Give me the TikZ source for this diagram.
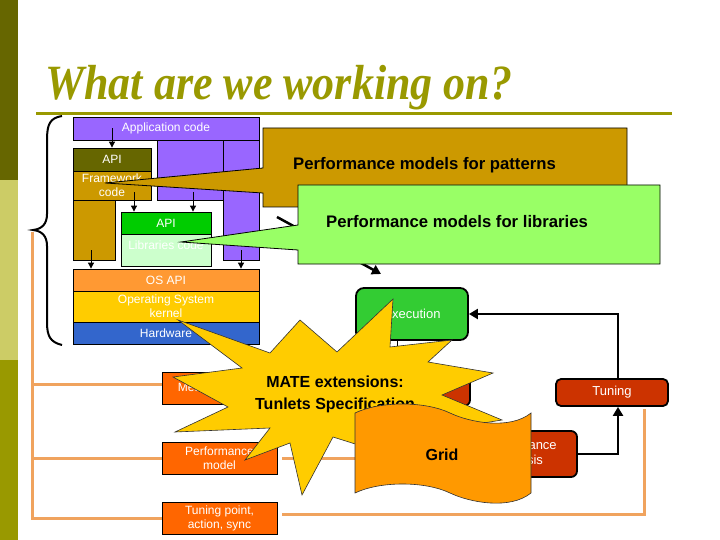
\documentclass[tikz,border=0pt]{standalone}
\usepackage{fontspec}
\setmainfont{Liberation Sans}
\newfontfamily\titlefont{Liberation Serif}
\usetikzlibrary{arrows.meta}
\definecolor{cPurp}{HTML}{9966FF}
\definecolor{cDOlive}{HTML}{666600}
\definecolor{cBrn}{HTML}{CC9900}
\definecolor{cGrn}{HTML}{00CC00}
\definecolor{cLGrn}{HTML}{CCFFCC}
\definecolor{cOsOr}{HTML}{FF9933}
\definecolor{cYel}{HTML}{FFCC00}
\definecolor{cHw}{HTML}{3366CC}
\definecolor{cCalGrn}{HTML}{99FF66}
\definecolor{cExGrn}{HTML}{33CC33}
\definecolor{cDRed}{HTML}{CC3300}
\definecolor{cOrng}{HTML}{FF6600}
\definecolor{cGridOr}{HTML}{FF9900}
\definecolor{cTan}{HTML}{F0A35E}
\definecolor{cKhaki}{HTML}{CCCC66}
\definecolor{cOlive}{HTML}{999900}
\tikzset{
  blk/.style={draw=black, line width=0.8pt, inner sep=0pt, text=white,
    font=\fontsize{12}{14}\selectfont, align=center},
  rbox/.style={blk, rounded corners=6pt, line width=1.8pt, font=\fontsize{13}{15}\selectfont},
  tanline/.style={draw=cTan, line width=3pt},
  flow/.style={draw=black, line width=2.5pt, -{Triangle[length=9pt,width=10pt]}},
  arr/.style={draw=black, line width=0.9pt, -{Triangle[length=6pt,width=6pt]}},
  calltext/.style={font=\bfseries\fontsize{16.7}{19}\selectfont, text=black, inner sep=0pt},
  startext/.style={font=\bfseries\fontsize{16}{22}\selectfont, text=black, inner sep=0pt, align=center},
}
\begin{document}
\begin{tikzpicture}[x=1pt,y=-1pt]
\useasboundingbox (0,0) rectangle (720,540);
\fill[white] (0,0) rectangle (720,540);
% sidebar
\fill[cDOlive] (0,0) rectangle (18,180);
\fill[cKhaki] (0,180) rectangle (18,360);
\fill[cOlive] (0,360) rectangle (18,540);
% title
\node[anchor=base west, inner sep=0pt, text=cOlive, yscale=1.12,
  font=\titlefont\bfseries\itshape\fontsize{44}{48}\selectfont] (title) at (45,100) {What are we working on?};
\draw[cOlive, line width=3pt] (36,114) -- (672,114);
% brace
\draw[line width=2pt] (62,116) .. controls (50,118) and (47,124) .. (47,140) -- (47,214)
  .. controls (47,224) and (42,229) .. (33,230) .. controls (42,231) and (47,236) .. (47,246)
  -- (47,322) .. controls (47,336) and (50,342) .. (62,345);
\coordinate (bt) at (32,232);

% left tunlet boxes
\node[blk, fill=cOrng, minimum width=114pt, minimum height=32pt] (mon) at (219,388) {Measure points};
\node[blk, fill=cOrng, minimum width=115pt, minimum height=32pt] (pm) at (219.5,458) {Performance\\model};
\node[blk, fill=cOrng, minimum width=115pt, minimum height=32pt] (tp) at (219.5,518) {Tuning point,\\action, sync};

% software stack
\node[blk, fill=cPurp, minimum width=66pt, minimum height=60pt] (col1) at (190,170) {};
\node[blk, fill=cPurp, minimum width=36pt, minimum height=120pt] (col2) at (241,200) {};
\node[blk, fill=cPurp, minimum width=186pt, minimum height=23pt] (app) at (166,128.5) {Application code};
\node[blk, fill=cBrn, minimum width=42pt, minimum height=60pt] (bcol) at (94,230) {};
\node[blk, fill=cDOlive, minimum width=78pt, minimum height=23pt] (api1) at (112,159.5) {API};
\node[blk, fill=cBrn, minimum width=78pt, minimum height=29pt] (fw) at (112,185.5) {Framework\\code};
\node[blk, fill=cGrn, minimum width=90pt, minimum height=22pt] (api2) at (166,223) {API};
\node[blk, fill=cLGrn, minimum width=90pt, minimum height=32pt, text depth=10pt] (lib) at (166,250) {Libraries code};
\node[blk, fill=cOsOr, minimum width=186pt, minimum height=22pt] (osapi) at (166,280) {OS API};
\node[blk, fill=cYel, minimum width=186pt, minimum height=31pt] (kern) at (166,306.5) {Operating System\\kernel};
\node[blk, fill=cHw, minimum width=186pt, minimum height=22pt] (hw) at (166,333) {Hardware};

\draw[arr] (app.center -| api1.north) -- (api1.north);
\draw[arr] ([xshift=22pt,yshift=-7pt]fw.center) -- ([xshift=-32pt]api2.north);
\draw[arr] ([xshift=3pt,yshift=-22pt]col1.center) -- ([xshift=27pt]api2.north);
\draw[arr] ([xshift=-3pt,yshift=-20pt]bcol.center) -- ([xshift=-75pt]osapi.north);
\draw[arr] ([yshift=-50pt]col2.center) -- ([xshift=75pt]osapi.north);

% tan connectors
\draw[tanline] (bt) |- (tp.west);
\draw[tanline] (pm.west) -- (pm.west -| bt);
\draw[tanline] ([yshift=4pt]mon.west) -- ([yshift=4pt]mon.west -| bt);

% right flow
\node[rbox, fill=cExGrn, rounded corners=8pt, minimum width=112pt, minimum height=52pt] (exec) at (412,314) {Execution};
\node[rbox, fill=cDRed, minimum width=110pt, minimum height=32pt] (monR) at (415,390) {};
\node[rbox, fill=cDRed, minimum width=115pt, minimum height=46pt] (pa) at (519.5,454) {Performance\\analysis};
\node[rbox, fill=cDRed, rounded corners=5pt, minimum width=112pt, minimum height=27pt] (tuning) at (612,392.5) {Tuning};

\draw[tanline, shorten <=5pt] (pm.east) -- (pm.east -| pa.west);
\draw[tanline, shorten <=5pt, shorten >=2pt] ([yshift=4pt]tp.east) -| ([xshift=32pt]tuning.south);

\draw[flow] ([xshift=6pt]tuning.north) |- (exec.east);
\draw[flow] (pa.east) -| ([xshift=6pt]tuning.south);
\draw[arr] ([xshift=-15pt]exec.south) -- ([xshift=-15pt]exec.south |- monR.north);

% callout for patterns
\filldraw[fill=cBrn, draw=black, line width=0.8pt] (263,128) -- (627,128) -- (627,207) -- (263,207)
  -- (263,193) -- (105,183) -- (263,168) -- cycle;
\node[calltext] (cpat) at (424.5,165) {Performance models for patterns};

% hidden arrow
\coordinate (hs) at (277,217);
\coordinate (he) at (381,274);
\draw[flow] (hs) -- (he);

% callout for libraries
\filldraw[fill=cCalGrn, draw=black, line width=0.8pt] (298,185) -- (660,185) -- (660,264) -- (298,264)
  -- (298,250) -- (181,242) -- (298,225) -- cycle;
\node[calltext] (clib) at (457,222) {Performance models for libraries};

% star
\filldraw[fill=cYel, draw=black!80, line width=0.6pt]
  (178,320) -- (270,353) -- (300,320) -- (337,352) -- (393,299) -- (390,347) -- (452,340)
  -- (428,362) -- (493,373) -- (442,395) -- (502,420) -- (440,430) -- (470,480)
  -- (333,437) -- (302,495) -- (290,443) -- (245,460) -- (270,428) -- (175,432)
  -- (228,407) -- (173,377) -- (242,368) -- cycle;
\node[startext] (mate) at (335,394) {MATE extensions:\\Tunlets Specification};

% grid wave
\filldraw[fill=cGridOr, draw=black!80, line width=0.6pt]
  (355,413) .. controls (380,401) and (425,401) .. (450,413)
  .. controls (470,422.6) and (510,430) .. (531,413)
  -- (531,493) .. controls (510,510) and (470,502.6) .. (450,493)
  .. controls (425,481) and (380,481) .. (355,493) -- cycle;
\node[startext] (grid) at (442,455) {Grid};
\end{tikzpicture}
\end{document}
